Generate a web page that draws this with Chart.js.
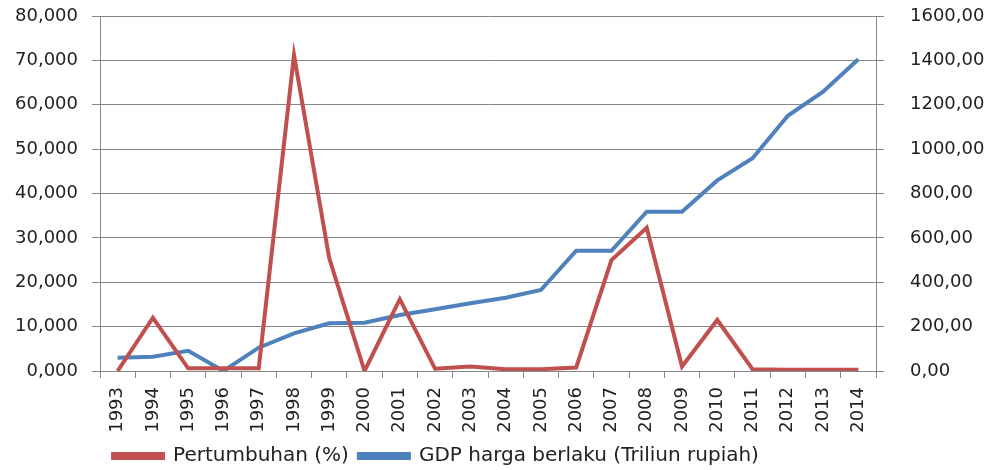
<!DOCTYPE html>
<html>
<head>
<meta charset="utf-8">
<script src="https://cdn.jsdelivr.net/npm/chart.js@4"></script>
<style>
html,body{margin:0;padding:0;background:#fff;}
#wrap{width:984px;height:470px;position:relative;}
</style>
</head>
<body>
<div id="wrap"><canvas id="c" width="984" height="470"></canvas></div>
<script>
const years = ['1993','1994','1995','1996','1997','1998','1999','2000','2001','2002','2003','2004','2005','2006','2007','2008','2009','2010','2011','2012','2013','2014'];
const pertumbuhan = [0, 12, 0.6, 0.6, 0.6, 71.2, 25.4, 0, 16.2, 0.5, 1.0, 0.4, 0.4, 0.8, 25, 32.3, 1.0, 11.5, 0.4, 0.3, 0.3, 0.3];
const gdp = [60, 64, 91, 0, 105, 170, 215, 218, 252, 278, 305, 330, 365, 542, 542, 718, 718, 859, 959, 1150, 1259, 1405];
const leftTicks = [0, 10, 20, 30, 40, 50, 60, 70, 80];
const rightTicks = [0, 200, 400, 600, 800, 1000, 1200, 1400, 1600];

const RED = '#C0504D', BLUE = '#4F81BD', GRID = '#878787';
const FONT = {family: '"DejaVu Sans", sans-serif', size: 18};

const legendShift = {
  id: 'legendShift',
  afterLayout(chart) {
    const lg = chart.legend;
    if (lg) { lg.right = lg.right - 112; }
  }
};

new Chart(document.getElementById('c'), {
  type: 'line',
  data: {
    labels: years,
    datasets: [
      {label: 'Pertumbuhan (%)', data: pertumbuhan, yAxisID: 'y', borderColor: RED, backgroundColor: RED, borderWidth: 4, pointRadius: 0, tension: 0},
      {label: 'GDP harga berlaku (Triliun rupiah)', data: gdp, yAxisID: 'y1', borderColor: BLUE, backgroundColor: BLUE, borderWidth: 4, pointRadius: 0, tension: 0}
    ]
  },
  plugins: [legendShift],
  options: {
    responsive: false,
    animation: false,
    layout: {padding: {top: 16, left: 0, right: 0, bottom: -6}},
    plugins: {
      legend: {
        position: 'bottom',
        labels: {boxWidth: 50, boxHeight: 4, color: '#222', font: {family: FONT.family, size: 20}, padding: 10}
      },
      tooltip: {enabled: false}
    },
    scales: {
      x: {
        offset: true,
        afterFit: (s) => { s.height = 65; s.paddingLeft = 0; s.paddingRight = 0; },
        grid: {display: true, drawOnChartArea: false, drawTicks: true, offset: true, tickLength: 7, color: GRID},
        border: {color: GRID},
        ticks: {minRotation: 90, maxRotation: 90, color: '#222', font: FONT, padding: 9, autoSkip: false}
      },
      y: {
        position: 'left', min: 0, max: 80,
        afterBuildTicks: (s) => { s.ticks = leftTicks.map(v => ({value: v})); },
        afterFit: (s) => { s.width = 100; s.paddingTop = 0; s.paddingBottom = 0; },
        grid: {color: GRID, tickLength: 8},
        border: {color: GRID},
        ticks: {color: '#222', font: FONT, padding: 14, callback: (v) => v.toFixed(3).replace('.', ',')}
      },
      y1: {
        position: 'right', min: 0, max: 1600,
        afterBuildTicks: (s) => { s.ticks = rightTicks.map(v => ({value: v})); },
        afterFit: (s) => { s.width = 108; s.paddingTop = 0; s.paddingBottom = 0; },
        grid: {drawOnChartArea: false, color: GRID, tickLength: 8},
        border: {color: GRID},
        ticks: {color: '#222', font: FONT, padding: 26, callback: (v) => v.toFixed(2).replace('.', ',')}
      }
    }
  }
});
</script>
</body>
</html>
